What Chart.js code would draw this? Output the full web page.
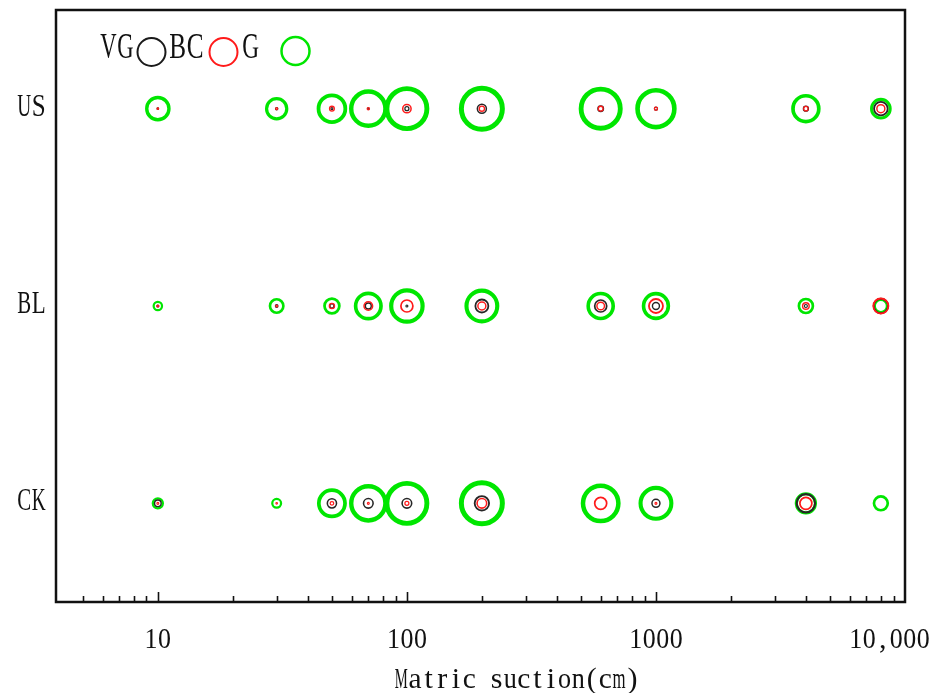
<!DOCTYPE html>
<html>
<head>
<meta charset="utf-8">
<script src="https://cdn.jsdelivr.net/npm/chart.js@4.4.1/dist/chart.umd.min.js"></script>
<style>
  html, body { margin: 0; padding: 0; background: #fff; }
  #wrap { width: 936px; height: 693px; }
</style>
</head>
<body>
<div id="wrap"><canvas id="chart"></canvas></div>
<script>
const suction = [10, 30, 50, 70, 100, 200, 600, 1000, 4000, 8000];
const soils = ["CK", "BL", "US"];
const tickValues = [10, 100, 1000, 10000];
const tickLabels = ["10", "100", "1000", "10,000"];

// bubble radius in px, one value per suction step
const vgCK = [3.3, 0, 4.6, 4.8, 4.8, 7.2, 0, 4.0, 9.2, 0];
const vgBL = [1.0, 1.3, 2.0, 3.0, 1.0, 6.5, 6.0, 3.5, 1.5, 7.2];
const vgUS = [0.8, 1.2, 1.0, 0.8, 2.0, 4.5, 2.8, 1.5, 2.5, 6.8];

const bcCK = [1.0, 0.8, 1.8, 1.0, 2.0, 4.8, 6.0, 1.0, 6.0, 0];
const bcBL = [1.0, 1.0, 2.6, 4.3, 6.0, 4.0, 3.8, 7.0, 3.3, 7.5];
const bcUS = [0.8, 1.0, 2.4, 1.2, 4.2, 2.6, 2.4, 1.6, 2.2, 4.0];

const gCK = [5.0, 4.4, 13.1, 17.1, 20.0, 20.5, 17.7, 15.4, 9.6, 6.9];
const gBL = [4.2, 6.7, 7.4, 12.7, 15.7, 15.4, 12.5, 12.4, 7.0, 6.2];
const gUS = [11.1, 10.1, 13.4, 17.1, 20.0, 20.5, 19.6, 18.4, 12.9, 9.3];

const FONT = '"Liberation Serif", "Times New Roman", serif';

function points(rows) {
  const out = [];
  rows.forEach((sizes, yi) => {
    suction.forEach((x, i) => out.push({ x: x, y: yi, r: sizes[i] }));
  });
  return out;
}

function ring(label, rows, color, base, k) {
  return {
    label: label,
    data: points(rows),
    backgroundColor: "rgba(0,0,0,0)",
    borderColor: color,
    borderWidth: ctx => base + k * (ctx.raw ? ctx.raw.r : 0)
  };
}

// half-width cell text, each glyph squeezed into its own cell
function drawCells(ctx, text, x, y, size, cell, align) {
  const total = text.length * cell;
  const left = align === "right" ? x - total : align === "center" ? x - total / 2 : x;
  ctx.font = size + "px " + FONT;
  ctx.textAlign = "center";
  ctx.textBaseline = "alphabetic";
  for (let i = 0; i < text.length; i++) {
    const ch = text[i];
    const w = ctx.measureText(ch).width || 1;
    const sx = Math.min(1, (cell * 0.96) / w);
    ctx.save();
    ctx.translate(left + cell * (i + 0.5), y);
    ctx.scale(sx, 1);
    ctx.fillText(ch, 0, 0);
    ctx.restore();
  }
}

const framePlugin = {
  id: "frame",
  afterDraw(chart) {
    const ctx = chart.ctx;
    const { left, right, top, bottom } = chart.chartArea;
    const xs = chart.scales.x, ys = chart.scales.y;
    ctx.save();
    ctx.fillStyle = "#111";
    ctx.strokeStyle = "#111";

    // inward ticks on the bottom axis, from 5 upward
    ctx.lineWidth = 1.6;
    for (let d = 1; d <= 1000; d *= 10) {
      for (let m = 1; m <= 9; m++) {
        const v = m * d;
        if (v < 5 || v > xs.max) continue;
        const px = Math.round(xs.getPixelForValue(v)) + 0.5;
        ctx.beginPath();
        ctx.moveTo(px, bottom);
        ctx.lineTo(px, bottom - (m === 1 ? 10 : 6));
        ctx.stroke();
      }
    }
    const pxEnd = xs.getPixelForValue(10000);
    ctx.beginPath();
    ctx.moveTo(pxEnd, bottom);
    ctx.lineTo(pxEnd, bottom - 10);
    ctx.stroke();

    ctx.lineWidth = 2.5;
    ctx.strokeRect(left, top, right - left, bottom - top);

    // x tick labels
    tickValues.forEach((v, i) => {
      let px = xs.getPixelForValue(v);
      const txt = tickLabels[i];
      const w = txt.length * 13.5;
      if (px + w / 2 > chart.width - 6) px = chart.width - 6 - w / 2;
      drawCells(ctx, txt, px, 648, 30, 13.5, "center");
    });

    // y category labels
    soils.forEach((s, i) => {
      drawCells(ctx, s, 46, ys.getPixelForValue(i) + 7, 31, 14.5, "right");
    });

    // axis title
    drawCells(ctx, "Matric suction(cm)", 517, 688, 30, 13.6, "center");

    // legend row
    drawCells(ctx, "VG", 100, 58, 35, 17, "left");
    drawCells(ctx, "BC", 169, 58, 35, 17.5, "left");
    drawCells(ctx, "G", 242, 58, 35, 17.5, "left");
    const marks = [[151.5, 52, "#1a1a1a", 2], [223.5, 52, "#ff1a1a", 2], [295.5, 51, "#00e600", 2.5]];
    marks.forEach(([cx, cy, col, lw]) => {
      ctx.beginPath();
      ctx.arc(cx, cy, 14, 0, Math.PI * 2);
      ctx.strokeStyle = col;
      ctx.lineWidth = lw;
      ctx.stroke();
    });
    ctx.restore();
  }
};

new Chart(document.getElementById("chart"), {
  type: "bubble",
  data: {
    datasets: [
      ring("BC", [bcCK, bcBL, bcUS], "#ff1a1a", 1.0, 0.12),
      ring("VG", [vgCK, vgBL, vgUS], "#262626", 1.0, 0.12),
      ring("G", [gCK, gBL, gUS], "#00e600", 1.5, 0.17)
    ]
  },
  options: {
    responsive: true,
    maintainAspectRatio: false,
    animation: false,
    layout: { autoPadding: false, padding: { top: 10, right: 31, left: 0, bottom: 0 } },
    plugins: {
      legend: { display: false },
      tooltip: { enabled: false }
    },
    scales: {
      x: {
        type: "logarithmic",
        min: 3.9,
        max: 10000,
        grid: { display: false, drawTicks: false },
        border: { display: false },
        ticks: { display: false },
        afterFit: s => { s.height = 91; }
      },
      y: {
        type: "linear",
        min: -0.5,
        max: 2.5,
        grid: { display: false, drawTicks: false },
        border: { display: false },
        ticks: { display: false },
        afterFit: s => { s.width = 56; }
      }
    }
  },
  plugins: [framePlugin]
});
</script>
</body>
</html>
